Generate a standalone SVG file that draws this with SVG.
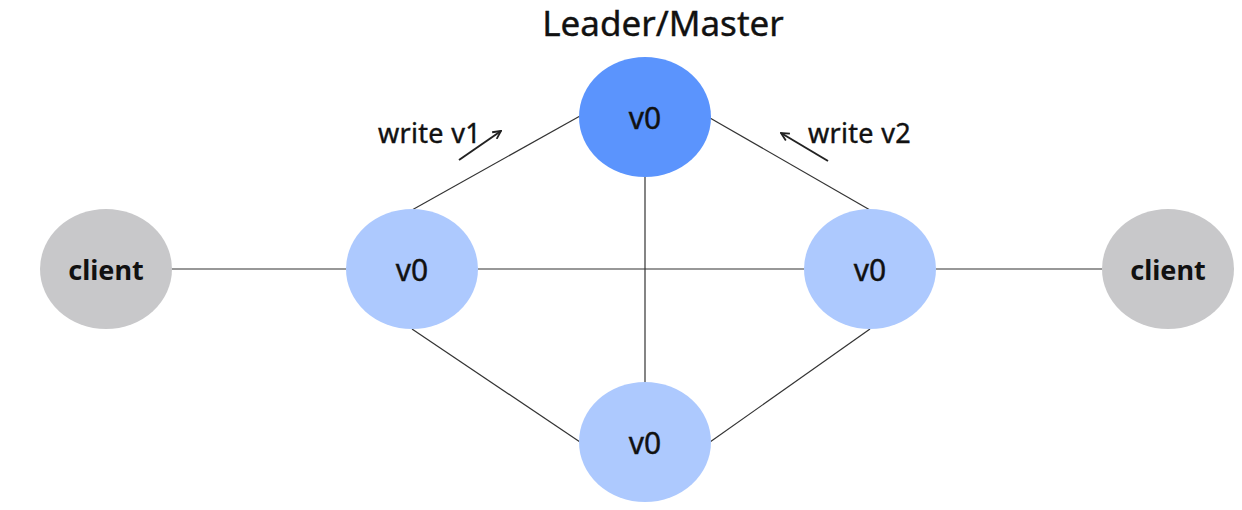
<svg xmlns="http://www.w3.org/2000/svg" width="1242" height="510" viewBox="0 0 1242 510">
<defs>
<style>
.edge{stroke:#333;stroke-width:1.2;fill:none}
.arr{stroke:#222;stroke-width:2;fill:none}
.lead{fill:#5B94FD}
.rep{fill:#ADC9FE}
.cli{fill:#C8C8CA}
.vt{font-family:"Noto Sans",sans-serif;font-size:30px;fill:#111;stroke:#111;stroke-width:0.4;text-anchor:middle;dominant-baseline:central}
.ct{font-family:"Noto Sans",sans-serif;font-size:27px;font-weight:bold;fill:#111;text-anchor:middle;dominant-baseline:central}
.lbl{font-family:"Noto Sans",sans-serif;font-size:27px;letter-spacing:0.3px;fill:#111;stroke:#111;stroke-width:0.4}
</style>
<marker id="ah" viewBox="0 0 10 10" refX="9" refY="5" markerWidth="5" markerHeight="5" orient="auto"><path d="M1,1 L9,5 L1,9" fill="none" stroke="#222" stroke-width="1.8"/></marker>
</defs>
<rect width="1242" height="510" fill="#fff"/>
<g id="connectors">
<line class="edge" x1="172" y1="269" x2="346" y2="269"/>
<line class="edge" x1="478" y1="269" x2="804" y2="269"/>
<line class="edge" x1="936" y1="269" x2="1102" y2="269"/>
<line class="edge" x1="645" y1="177" x2="645" y2="382"/>
<line class="edge" x1="412" y1="210" x2="580" y2="116"/>
<line class="edge" x1="710" y1="118" x2="870" y2="210"/>
<line class="edge" x1="412" y1="329" x2="580" y2="442"/>
<line class="edge" x1="870" y1="329" x2="710" y2="442"/>
<line class="arr" x1="459" y1="160" x2="501" y2="131" marker-end="url(#ah)"/>
<line class="arr" x1="828" y1="161" x2="781" y2="133" marker-end="url(#ah)"/>
</g>
<g id="title"><text x="663" y="36" font-family="Noto Sans, sans-serif" font-size="35" fill="#111" stroke="#111" stroke-width="0.4" text-anchor="middle">Leader/Master</text></g>
<g id="label-v1"><text class="lbl" x="378" y="143">write v1</text></g>
<g id="label-v2"><text class="lbl" x="808" y="143">write v2</text></g>
<g id="leader"><ellipse class="lead" cx="645" cy="117" rx="66" ry="60"/><text class="vt" x="645" y="117">v0</text></g>
<g id="left"><ellipse class="rep" cx="412" cy="269" rx="66" ry="60"/><text class="vt" x="412" y="269">v0</text></g>
<g id="right"><ellipse class="rep" cx="870" cy="269" rx="66" ry="60"/><text class="vt" x="870" y="269">v0</text></g>
<g id="bottom"><ellipse class="rep" cx="645" cy="442" rx="66" ry="60"/><text class="vt" x="645" y="442">v0</text></g>
<g id="client-left"><ellipse class="cli" cx="106" cy="269" rx="66" ry="60"/><text class="ct" x="106" y="269">client</text></g>
<g id="client-right"><ellipse class="cli" cx="1168" cy="269" rx="66" ry="60"/><text class="ct" x="1168" y="269">client</text></g>
</svg>
